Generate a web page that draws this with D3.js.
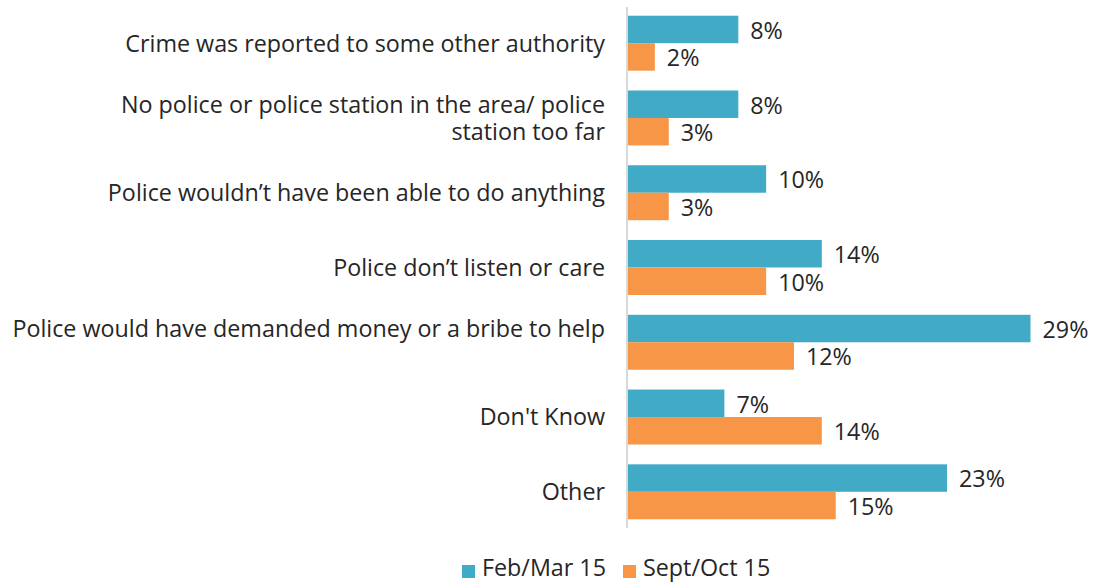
<!DOCTYPE html>
<html>
<head>
<meta charset="utf-8">
<script src="https://cdn.jsdelivr.net/npm/d3@7"></script>
<style>
  html, body { margin: 0; padding: 0; background: #fff; }
  svg { display: block; }
  text { font-family: "Open Sans", sans-serif; fill: #262626; }
</style>
</head>
<body>
<svg id="chart" width="1099" height="583"></svg>
<script>
// Reasons given for not reporting a crime to the police
const categories = [
  ["Crime was reported to some other authority"],
  ["No police or police station in the area/ police", "station too far"],
  ["Police wouldn\u2019t have been able to do anything"],
  ["Police don\u2019t listen or care"],
  ["Police would have demanded money or a bribe to help", ""],
  ["Don't Know"],
  ["Other"]
];
const seriesNames = ["Feb/Mar 15", "Sept/Oct 15"];
const febMar = [8, 8, 10, 14, 29, 7, 23];
const septOct = [2, 3, 3, 10, 12, 14, 15];
const colors = ["#41ABC7", "#F79646"];

const svg = d3.select("#chart");
const x0 = 627;
const fontSize = 23.3;

const keys = categories.map((c, i) => i);
const y = d3.scaleBand().domain(keys).range([6, 529]).paddingInner(0.265).paddingOuter(0.13);
const ySub = d3.scaleBand().domain([0, 1]).range([0, y.bandwidth()]);
const x = d3.scaleLinear().domain([0, 29]).range([x0, 1030.5]);

const rows = keys.map(i => ({ i, vals: [febMar[i], septOct[i]] }));

const g = svg.append("g");

// bars
const grp = g.selectAll("g.cat").data(rows).join("g")
  .attr("class", "cat")
  .attr("transform", d => `translate(0,${y(d.i)})`);

grp.selectAll("rect").data(d => d.vals.map((v, s) => ({ v, s }))).join("rect")
  .attr("x", x(0))
  .attr("y", d => ySub(d.s))
  .attr("width", d => x(d.v) - x(0))
  .attr("height", ySub.bandwidth())
  .attr("fill", d => colors[d.s]);

// value labels
grp.selectAll("text.val").data(d => d.vals.map((v, s) => ({ v, s }))).join("text")
  .attr("class", "val")
  .attr("x", d => x(d.v) + 12)
  .attr("y", d => ySub(d.s) + ySub.bandwidth() / 2)
  .attr("dy", "0.4em")
  .attr("font-size", fontSize)
  .text(d => d.v + "%");

// category axis line
g.append("line")
  .attr("x1", x0).attr("x2", x0)
  .attr("y1", 7).attr("y2", 528)
  .attr("stroke", "#d9d9d9").attr("stroke-width", 2);

// category labels
const lineH = 27;
g.selectAll("text.cat").data(rows).join("text")
  .attr("class", "cat")
  .attr("text-anchor", "end")
  .attr("font-size", fontSize)
  .each(function(d) {
    const lines = categories[d.i];
    const cy = y(d.i) + y.bandwidth() / 2;
    const top = cy - (lines.length - 1) * lineH / 2;
    d3.select(this).selectAll("tspan").data(lines).join("tspan")
      .attr("x", 605)
      .attr("y", (l, k) => top + k * lineH)
      .attr("dy", "0.36em")
      .text(l => l);
  });

// legend
const legend = svg.append("g").attr("transform", "translate(462,569)");
const legX = [0, 161];
seriesNames.forEach((name, s) => {
  const lg = legend.append("g").attr("transform", `translate(${legX[s]},0)`);
  lg.append("rect").attr("x", 0).attr("y", -4).attr("width", 13).attr("height", 13).attr("fill", colors[s]);
  lg.append("text").attr("x", 20).attr("y", 0).attr("dy", "0.3em").attr("font-size", fontSize).text(name);
});
</script>
</body>
</html>
